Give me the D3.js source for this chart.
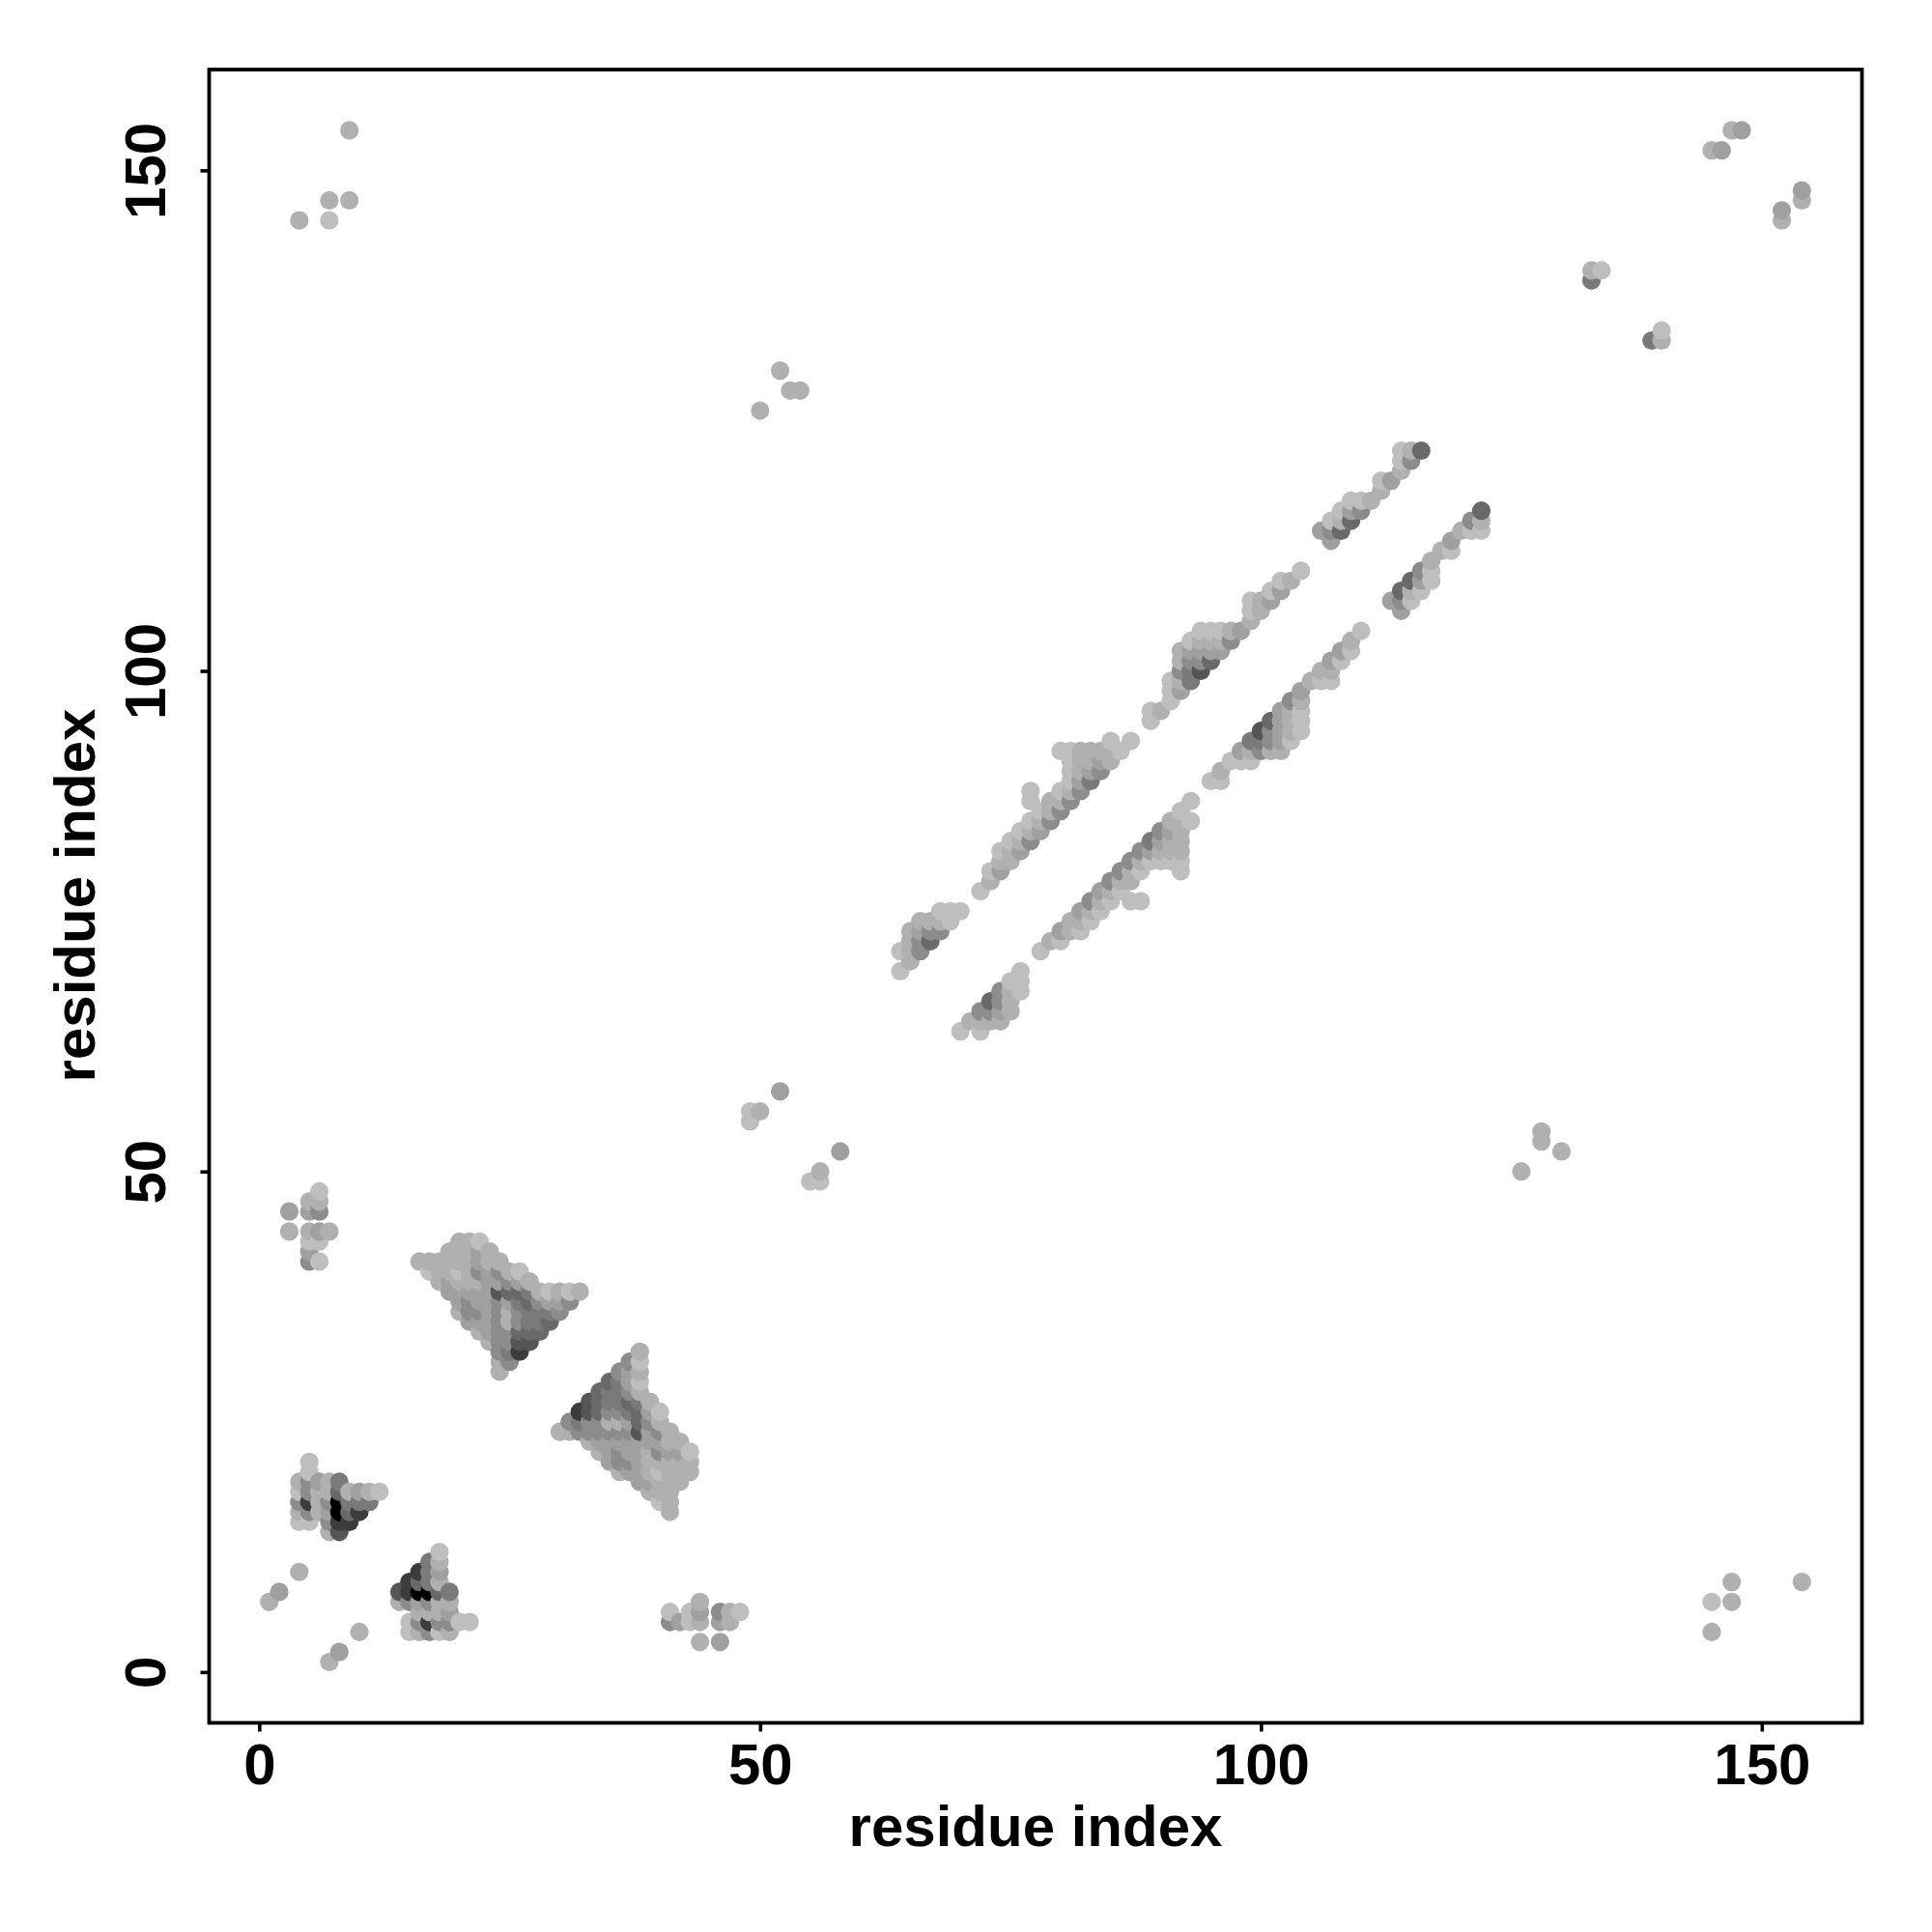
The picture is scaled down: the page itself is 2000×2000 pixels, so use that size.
<!DOCTYPE html>
<html>
<head>
<meta charset="utf-8">
<script src="https://cdn.jsdelivr.net/npm/d3@7/dist/d3.min.js"></script>
<style>
html,body{margin:0;padding:0;background:#fff}
svg{display:block}
text{font-family:"Liberation Sans",Arial,sans-serif;font-weight:bold;fill:#000}
</style>
</head>
<body>
<svg id="chart" width="2000" height="2000"></svg>
<script>
// Contact rows: [j, first i, strength digits], '.' = no contact. Strength 0 (faint) .. 9 (strong).
const isolatedRows = [[7,1,"1"],[8,2,"2"],[10,4,"1"],[145,4,"1..0"],[147,7,"1.1"],[154,9,"1"],
  [126,50,"1"],[128,53,"11"],[130,52,"1"],[55,49,"0"],[56,49,"01"],[58,52,"2"],
  [139,133,"4"],[140,133,"10"],[152,145,"12"],[154,147,"12"]];
const clusterA = [[41,5,"30"],[42,5,"2"],[43,5,"00"],[44,3,"1.121"],[46,3,"2.23"],[47,5,"11"],[48,6,"0"]];
const clusterB = [[14,7,"16"],[15,4,"00.377"],[16,4,"1312957"],[17,4,"37139444"],[18,4,"031151210"],
  [19,4,"13214"],[20,5,"0"],[21,5,"0"]];
const clusterD = [[43,20,"110"],[42,19,"11121"],[41,16,"111111211"],[40,17,"0110132310"],
  [39,18,"1211122321"],[38,19,"22222655410101"],[37,20,"232232453223"],[36,20,"13323134443"],
  [35,21,"222313445"],[34,22,"1233555"],[33,23,"13366"],[32,24,"347"],[31,24,"13"],[30,24,"1"]];
const bandRows = [[70,64,"0"],[71,65,"1"],[72,64,"013"],[73,65,"135"],[74,65,"1233"],[75,66,"1110"],[76,68,"000"],
  [78,72,"0"],[79,73,"1"],[80,73,"02"],[81,74,"11"],[82,74,"012"],[83,75,"013"],[84,76,"012"],[85,77,"013"],
  [86,78,"013"],[87,77,"0.113"],[88,77,"0..013"],[89,81,"024"],[90,81,"0123"],[91,81,"01121"],[92,80,"0011110"],[93,85,"0.0"],
  [95,89,"0"],[96,89,"01"],[97,91,"0"],[98,91,"02"],[99,91,"014"],[100,92,"346"],[101,92,"1335"],[102,92,"12222"],
  [103,93,"01113"],[104,94,"00012"],[105,99,"1"],[106,99,"01"],[107,99,"012"],[108,101,"02"],[109,102,"01"],[110,104,"0"],
  [113,107,"2"],[114,106,"235"],[115,107,"015"],[116,108,"023"],[117,109,"001"],[118,112,"1"],[119,112,"02"],
  [120,114,"1"],[121,114,"03"],[122,114,"015"]];
const xTicks = [0,50,100,150];
const yTicks = [0,50,100,150];
const axisTitle = "residue index";
const strengthLevels = [0,1,2,3,4,5,6,7,8,9];
const grayLevels = [190,176,160,140,122,105,85,60,30,0];

const upper = [];
[isolatedRows,clusterA,clusterB,clusterD,bandRows].forEach(rows=>rows.forEach(([j,first,digits])=>{
  Array.from(digits).forEach((c,k)=>{ if(c!=="."){ upper.push({i:first+k,j:j,v:+c}); } });
}));
const contacts = upper.concat(upper.map(d=>({i:d.j,j:d.i,v:d.v})));
contacts.sort((a,b)=>d3.ascending(a.i,b.i)||d3.ascending(a.j,b.j));

const x = d3.scaleLinear().domain([-5,160]).range([216.5,1927.5]);
const y = d3.scaleLinear().domain([-5,160]).range([1782.7,72.7]);
const gray = d3.scaleLinear().domain(strengthLevels).range(grayLevels);

const svg = d3.select("#chart");
svg.append("g").selectAll("circle").data(contacts).join("circle")
  .attr("cx",d=>x(d.i)).attr("cy",d=>y(d.j)).attr("r",9.6)
  .attr("fill",d=>{const g=Math.round(gray(d.v));return d3.rgb(g,g,g);});

svg.append("rect").attr("x",x.range()[0]).attr("y",72)
  .attr("width",x.range()[1]-x.range()[0]).attr("height",1783.5-72)
  .attr("fill","none").attr("stroke","#000").attr("stroke-width",3.8);

const xAxis = d3.axisBottom(x).tickValues(xTicks).tickSize(9).tickPadding(12).tickFormat(d3.format("d"));
const gx = svg.append("g").attr("transform","translate(0,1783.5)").call(xAxis);
gx.select(".domain").remove();
gx.selectAll("line").attr("stroke","#000").attr("stroke-width",3.6);
gx.selectAll("text").attr("font-size",60).attr("font-family",'"Liberation Sans"').attr("font-weight","bold").attr("fill","#000");

const yAxis = d3.axisLeft(y).tickValues(yTicks).tickSize(9).tickPadding(0).tickFormat(d3.format("d"));
const gy = svg.append("g").attr("transform",`translate(${x.range()[0]},0)`).call(yAxis);
gy.select(".domain").remove();
gy.selectAll("line").attr("stroke","#000").attr("stroke-width",3.6);
gy.selectAll("text").attr("font-size",60).attr("font-family",'"Liberation Sans"').attr("font-weight","bold").attr("fill","#000")
  .attr("dy",null).attr("x",null)
  .attr("text-anchor","middle")
  .attr("transform",d=>`translate(-46,0) rotate(-90)`);

svg.append("text").attr("x",1072).attr("y",1911).attr("text-anchor","middle").attr("font-size",60).text(axisTitle);
svg.append("text").attr("transform","translate(98,927) rotate(-90)").attr("text-anchor","middle").attr("font-size",60).text(axisTitle);
</script>
</body>
</html>
